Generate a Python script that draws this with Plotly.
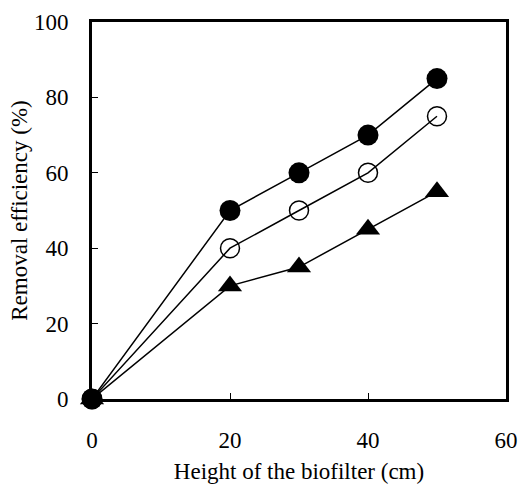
import plotly.graph_objects as go

heights = [0, 20, 30, 40, 50]
filled_circle = [0, 50, 60, 70, 85]
open_circle = [0, 40, 50, 60, 75]
triangle = [0, 30, 35, 45, 55]
x_ticks = [0, 20, 40, 60]
y_ticks = [0, 20, 40, 60, 80, 100]

fig = go.Figure()
fig.add_trace(go.Scatter(x=heights, y=triangle, mode="lines+markers",
                         line=dict(color="black", width=1.5),
                         marker=dict(symbol="triangle-up", size=21, color="black"),
                         cliponaxis=False, showlegend=False))
fig.add_trace(go.Scatter(x=heights, y=open_circle, mode="lines+markers",
                         line=dict(color="black", width=1.5),
                         marker=dict(symbol="circle-open", size=19, color="black",
                                     line=dict(width=1.5, color="black")),
                         cliponaxis=False, showlegend=False))
fig.add_trace(go.Scatter(x=heights, y=filled_circle, mode="lines+markers",
                         line=dict(color="black", width=1.5),
                         marker=dict(symbol="circle", size=21, color="black"),
                         cliponaxis=False, showlegend=False))

font = dict(family="'Liberation Serif', 'Times New Roman', serif", size=23, color="black")
fig.update_layout(
    width=521, height=487,
    margin=dict(l=92, r=15, t=22, b=88),
    plot_bgcolor="white", paper_bgcolor="white",
    font=font,
    xaxis=dict(range=[0, 60], tickvals=x_ticks, showgrid=False, zeroline=False,
               showline=True, linecolor="black", linewidth=3, mirror=True,
               ticks="inside", ticklen=6, tickwidth=1, tickcolor="black",
               ticklabelstandoff=18, tickfont=font, automargin=False,
               title=dict(text="Height of the biofilter (cm)", font=font, standoff=12)),
    yaxis=dict(range=[0, 100], tickvals=y_ticks, showgrid=False, zeroline=False,
               showline=True, linecolor="black", linewidth=3, mirror=True,
               ticks="inside", ticklen=6, tickwidth=1, tickcolor="black",
               ticklabelstandoff=16, tickfont=font, automargin=False,
               title=dict(text="Removal efficiency (%)", font=font, standoff=0)),
)
fig.write_html(
    "out.html",
    config={"displayModeBar": False},
    post_script="document.body.style.margin='0';document.body.style.overflow='hidden';",
)
